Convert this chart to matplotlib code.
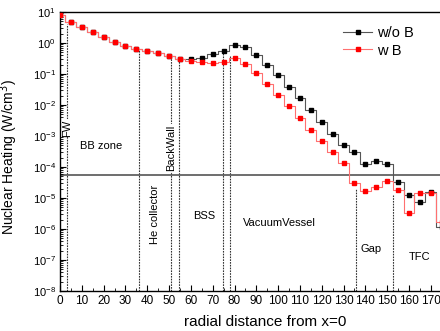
# Nuclear heating along the radial direction, with and without B
import numpy as np
import matplotlib
matplotlib.use("Agg")
import matplotlib.pyplot as plt
from matplotlib.ticker import MultipleLocator, LogLocator, NullFormatter

plt.rcParams['font.family'] = ['Liberation Sans', 'DejaVu Sans']

# radial positions of the tally cells
x = np.arange(0, 180, 5)

# log10 of heating (W/cm3)
log_wB = [0.90, 0.69, 0.53, 0.34, 0.19, 0.03, -0.10, -0.19, -0.26, -0.33,
          -0.42, -0.52, -0.57, -0.62, -0.65, -0.60, -0.48, -0.67, -0.97, -1.31,
          -1.69, -2.03, -2.43, -2.81, -3.17, -3.51, -3.86, -4.50, -4.76, -4.63,
          -4.44, -4.74, -5.47, -4.84, -4.84, -5.77]
log_woB = [0.90, 0.69, 0.53, 0.34, 0.19, 0.03, -0.10, -0.19, -0.26, -0.33,
           -0.42, -0.52, -0.53, -0.49, -0.36, -0.25, -0.07, -0.14, -0.38, -0.71,
           -1.03, -1.41, -1.76, -2.16, -2.55, -2.95, -3.30, -3.52, -3.89, -3.82,
           -3.90, -4.49, -4.90, -5.13, -4.80, -5.94]
wB = 10 ** np.array(log_wB)
woB = 10 ** np.array(log_woB)

# zone boundaries and how high each dotted line goes
bounds = [3.2, 36.0, 51.0, 54.5, 74.6, 77.8, 135.6, 152.5]
bound_tops = [4.1, 0.6, 0.36, 0.33, 0.59, 0.38, 1.9e-5, 1.26e-5]

# zone labels: text, x, y, rotation
zones = [("FW", 3.2, 1.8e-3, 90),
         ("BB zone", 19.0, 4.8e-4, 0),
         ("BackWall", 50.8, 4.1e-4, 90),
         ("He collector", 43.4, 3.0e-6, 90),
         ("BSS", 66.0, 2.6e-6, 0),
         ("VacuumVessel", 100.5, 1.55e-6, 0),
         ("Gap", 142.5, 2.2e-7, 0),
         ("TFC", 165.0, 1.25e-7, 0)]

limit = 5.6e-5

fig = plt.figure(figsize=(4.4, 3.31), dpi=100)
ax = fig.add_axes([60/440, 1-291/331, 380/440, 279/331])

ax.vlines(bounds, 1e-8, bound_tops, colors='#333333', linestyles=(0, (1.5, 1)), lw=0.8, zorder=1)
ax.axhline(limit, color='#555555', lw=1.2, zorder=1)

ax.plot(x, woB, drawstyle='steps-mid', color='#555555', lw=0.8,
        marker='s', ms=3, mfc='black', mec='black', label='w/o B', zorder=3)
ax.plot(x, wB, drawstyle='steps-mid', color='#ff7070', lw=0.8,
        marker='s', ms=3, mfc='red', mec='red', label='w B', zorder=4)

for txt, tx, ty, rot in zones:
    t = ax.text(tx, ty, txt, rotation=rot, ha='center', va='center', fontsize=8, zorder=2)
    if rot == 90:
        t.set_bbox(dict(facecolor='white', edgecolor='none', pad=0.5))

ax.set_yscale('log')
ax.set_ylim(1e-8, 10)
ax.set_xlim(0, 174.2)
ax.xaxis.set_major_locator(MultipleLocator(10))
ax.xaxis.set_minor_locator(MultipleLocator(5))
ax.yaxis.set_major_locator(LogLocator(base=10, numticks=20))
ax.yaxis.set_minor_locator(LogLocator(base=10, subs=np.arange(2, 10), numticks=20))
ax.yaxis.set_minor_formatter(NullFormatter())
ax.tick_params(which='major', direction='in', length=4, width=0.8, labelsize=8.5, pad=3)
ax.tick_params(axis='y', which='major', labelsize=8)
ax.tick_params(which='minor', direction='in', length=2, width=0.6)

ax.spines['right'].set_visible(False)
for s in ['left', 'bottom', 'top']:
    ax.spines[s].set_linewidth(1.0)

ax.set_xlabel("radial distance from x=0", fontsize=11)
ax.set_ylabel("Nuclear Heating (W/cm$^3$)", fontsize=10)
ax.xaxis.set_label_coords(0.54, -0.085)
ax.yaxis.set_label_coords(-0.105, 0.48)

ax.legend(loc='upper left', bbox_to_anchor=(0.745, 0.95), frameon=False, fontsize=10.5,
          handlelength=2.0, handletextpad=0.3, labelspacing=0.25,
          borderpad=0, borderaxespad=0)

fig.savefig("out.png", dpi=100)
